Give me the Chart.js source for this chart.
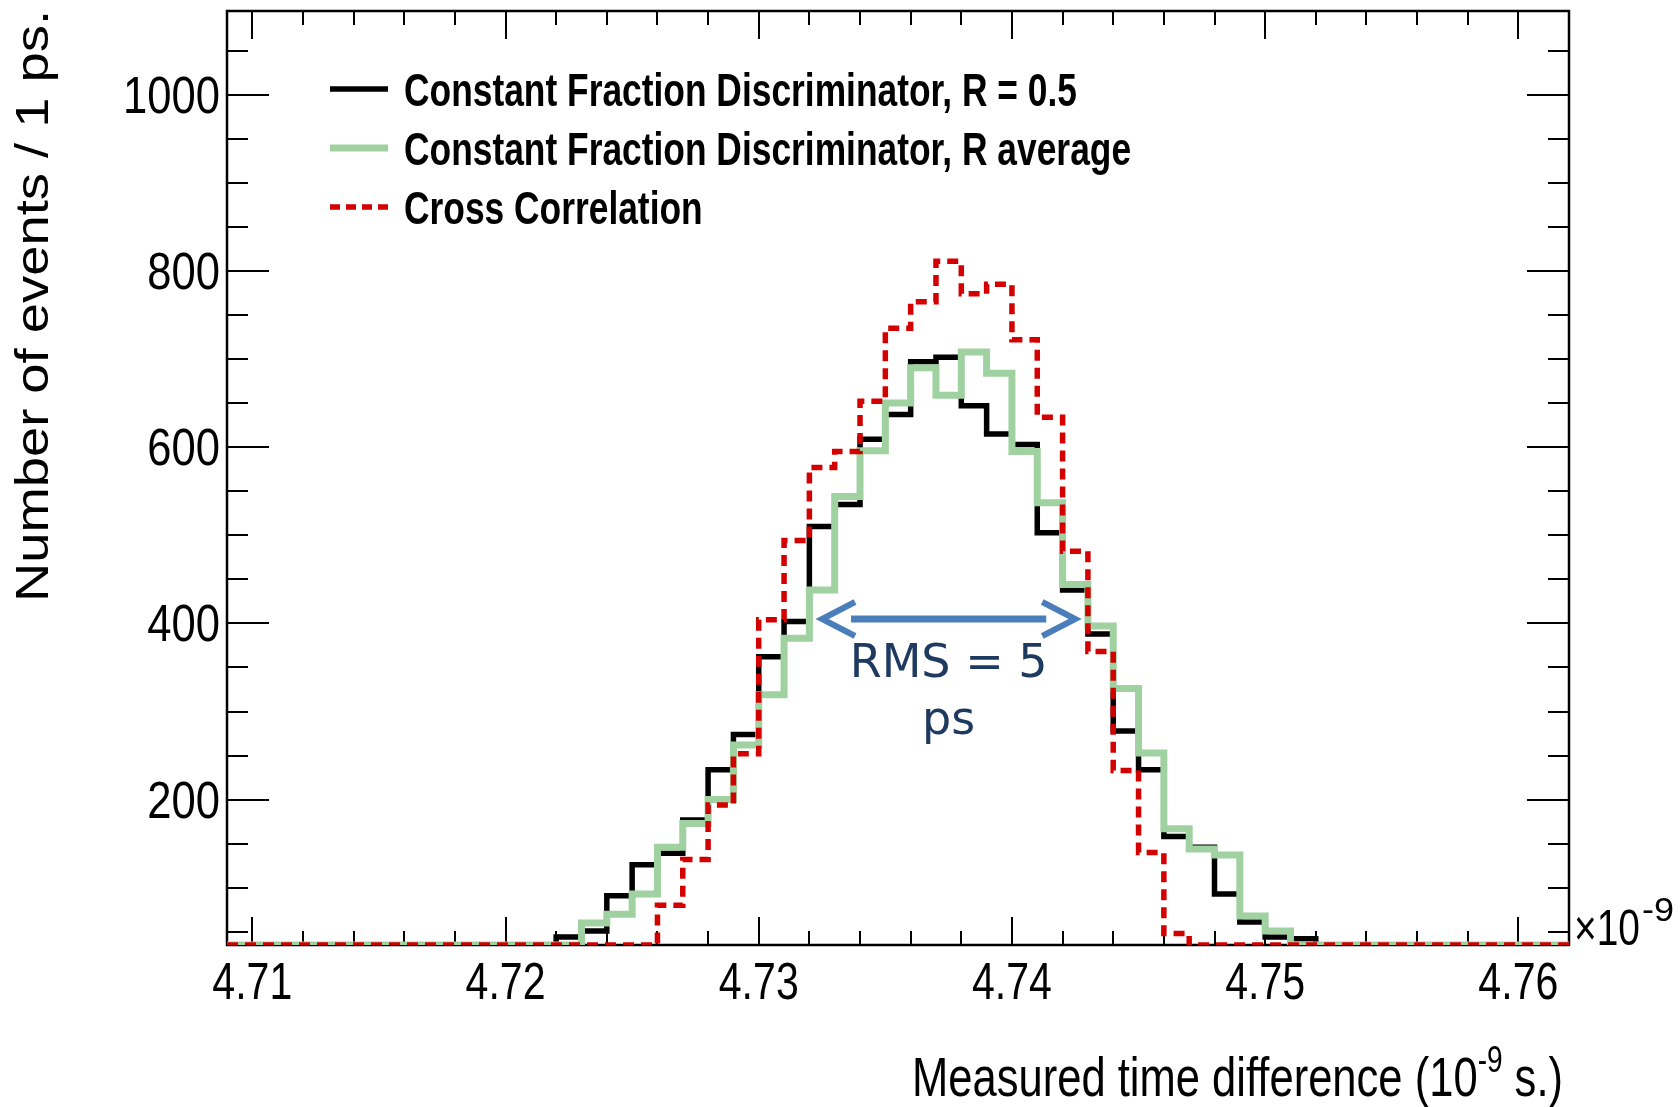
<!DOCTYPE html>
<html>
<head>
<meta charset="utf-8">
<title>Measured time difference</title>
<script src="https://cdn.jsdelivr.net/npm/chart.js@4.4.1/dist/chart.umd.min.js"></script>
<style>
  html, body { margin: 0; padding: 0; background: #fff; }
  canvas { display: block; }
</style>
</head>
<body>
<canvas id="chart" width="1680" height="1107"></canvas>
<script>
// left edge of every 1 ps bin, in units of 10^-9 s
const timeBins = [
  4.709, 4.710, 4.711, 4.712, 4.713, 4.714, 4.715, 4.716, 4.717, 4.718,
  4.719, 4.720, 4.721, 4.722, 4.723, 4.724, 4.725, 4.726, 4.727, 4.728,
  4.729, 4.730, 4.731, 4.732, 4.733, 4.734, 4.735, 4.736, 4.737, 4.738,
  4.739, 4.740, 4.741, 4.742, 4.743, 4.744, 4.745, 4.746, 4.747, 4.748,
  4.749, 4.750, 4.751, 4.752, 4.753, 4.754, 4.755, 4.756, 4.757, 4.758,
  4.759, 4.760, 4.761
];
const binWidth = 0.001;

// events per bin
const cfdHalf = [
  0, 0, 0, 0, 0, 0, 0, 0, 0, 0, 0, 0, 0,
  44, 51, 91, 126, 139, 177, 234, 274, 362, 402, 510, 535, 609, 637, 697, 702,
  647, 615, 603, 503, 438, 388, 278, 234, 158, 146, 93, 61, 44, 42,
  0, 0, 0, 0, 0, 0, 0, 0, 0, 0
];
const cfdAverage = [
  0, 0, 0, 0, 0, 0, 0, 0, 0, 0, 0, 0, 0, 0,
  60, 70, 93, 146, 173, 200, 262, 319, 383, 438, 544, 596, 650, 690,
  659, 708, 684, 595, 537, 444, 397, 326, 253, 167, 144, 137, 68, 51,
  0, 0, 0, 0, 0, 0, 0, 0, 0, 0, 0
];
const crossCorrelation = [
  0, 0, 0, 0, 0, 0, 0, 0, 0, 0, 0, 0, 0, 0, 0, 0, 0,
  80, 132, 194, 252, 404, 494, 577, 595, 652, 735, 765, 811, 774, 785, 722,
  634, 482, 368, 233, 140, 48,
  0, 0, 0, 0, 0, 0, 0, 0, 0, 0, 0, 0, 0, 0, 0
];

const seriesNames = [
  "Constant Fraction Discriminator, R = 0.5",
  "Constant Fraction Discriminator, R average",
  "Cross Correlation"
];
const xTickValues = [4.71, 4.72, 4.73, 4.74, 4.75, 4.76];
const yTickValues = [200, 400, 600, 800, 1000];
const rmsLabel = ["RMS = 5", "ps"];
const rmsSpan = [4.7325, 4.7425];
const rmsLevel = 405;

const xMin = 4.709, xMax = 4.762;
const yMin = 35, yMax = 1095;

const colBlack = "#000000";
const colGreen = "#a0d1a0";
const colRed = "#d40000";
const redDash = [11, 7];

// histogram as stepped line: one point per left edge plus the closing edge
function histPoints(values) {
  const pts = timeBins.map((x, i) => ({ x: x, y: Math.max(values[i], yMin) }));
  pts.push({ x: timeBins[timeBins.length - 1] + binWidth, y: pts[pts.length - 1].y });
  return pts;
}

// draw text squeezed horizontally by factor k
function squeezeText(ctx, text, x, y, k, font, align) {
  ctx.save();
  ctx.font = font;
  const width = ctx.measureText(text).width * k;
  let x0 = x;
  if (align === "center") x0 = x - width / 2;
  if (align === "right") x0 = x - width;
  ctx.translate(x0, y);
  ctx.scale(k, 1);
  ctx.textAlign = "left";
  ctx.fillText(text, 0, 0);
  ctx.restore();
  return width;
}

// draw text fitted to a given width
function fitText(ctx, text, x, y, width, font, align) {
  ctx.font = font;
  const k = width / ctx.measureText(text).width;
  squeezeText(ctx, text, x, y, k, font, align);
  return k;
}

const frameAndTicks = {
  id: "frameAndTicks",
  beforeDatasetsDraw(chart) {
    const { ctx, chartArea: a, scales: { x, y } } = chart;
    ctx.save();
    ctx.strokeStyle = "#000";
    ctx.lineWidth = 2;
    ctx.beginPath();
    for (let ps = 10; ps <= 60; ps += 2) {
      const px = Math.round(x.getPixelForValue(4.7 + ps / 1000));
      const len = ps % 10 === 0 ? 28 : 14;
      ctx.moveTo(px, a.bottom); ctx.lineTo(px, a.bottom - len);
      ctx.moveTo(px, a.top); ctx.lineTo(px, a.top + len);
    }
    for (let v = 50; v <= 1050; v += 50) {
      const py = Math.round(y.getPixelForValue(v));
      const len = v % 200 === 0 ? 42 : 21;
      ctx.moveTo(a.left, py); ctx.lineTo(a.left + len, py);
      ctx.moveTo(a.right, py); ctx.lineTo(a.right - len, py);
    }
    ctx.stroke();
    ctx.lineWidth = 2.5;
    ctx.strokeRect(a.left, a.top, a.right - a.left, a.bottom - a.top);

    // tick labels, condensed like the original
    ctx.fillStyle = "#000";
    const tickFont = "51px 'Liberation Sans', Arial";
    ctx.font = tickFont;
    const kx = 80 / ctx.measureText("4.71").width;
    x.ticks.forEach(t => {
      squeezeText(ctx, Number(t.value).toFixed(2), x.getPixelForValue(t.value), a.bottom + 54, kx, tickFont, "center");
    });
    ctx.font = tickFont;
    const ky = 97 / ctx.measureText("1000").width;
    y.ticks.forEach(t => {
      squeezeText(ctx, String(t.value), a.left - 7, y.getPixelForValue(t.value) + 18, ky, tickFont, "right");
    });
    ctx.restore();
  }
};

const decorations = {
  id: "decorations",
  afterDatasetsDraw(chart) {
    const { ctx, chartArea: a, scales: { x, y } } = chart;
    ctx.save();
    ctx.fillStyle = "#000";

    // legend
    const rows = [89, 148, 207];
    const styles = [
      { color: colBlack, width: 5.5, dash: [] },
      { color: colGreen, width: 7, dash: [] },
      { color: colRed, width: 5.5, dash: [10, 6] }
    ];
    const legendFont = "bold 47px 'Liberation Sans Narrow', 'Liberation Sans', Arial";
    ctx.font = legendFont;
    const k = 673 / ctx.measureText(seriesNames[0]).width;
    rows.forEach((ry, i) => {
      ctx.beginPath();
      ctx.strokeStyle = styles[i].color;
      ctx.lineWidth = styles[i].width;
      ctx.setLineDash(styles[i].dash);
      ctx.moveTo(330, ry);
      ctx.lineTo(388, ry);
      ctx.stroke();
      ctx.setLineDash([]);
      squeezeText(ctx, seriesNames[i], 404, ry + 17, k, legendFont);
    });

    // y title
    ctx.save();
    ctx.translate(48, 602);
    ctx.rotate(-Math.PI / 2);
    fitText(ctx, "Number of events / 1 ps.", 0, 0, 592, "46px 'Liberation Sans', Arial");
    ctx.restore();

    // x title with superscript
    const mainFont = "56px 'Liberation Sans', Arial";
    const supFont = "36px 'Liberation Sans', Arial";
    const parts = [
      { t: "Measured time difference (10", f: mainFont, dy: 0 },
      { t: "-9", f: supFont, dy: -24 },
      { t: " s.)", f: mainFont, dy: 0 }
    ];
    let total = 0;
    parts.forEach(p => { ctx.font = p.f; p.w = ctx.measureText(p.t).width; total += p.w; });
    const kt = 651 / total;
    let cx = 912;
    parts.forEach(p => {
      cx += squeezeText(ctx, p.t, cx, 1096 + p.dy, kt, p.f);
    });

    // x10^-9 exponent label
    fitText(ctx, "\u00d710", 1574, 945, 66, "50px 'Liberation Sans', Arial");
    fitText(ctx, "-9", 1642, 921, 32, "34px 'Liberation Sans', Arial");

    // RMS arrow
    const xl = x.getPixelForValue(rmsSpan[0]);
    const xr = x.getPixelForValue(rmsSpan[1]);
    const ay = y.getPixelForValue(rmsLevel);
    ctx.strokeStyle = "#4a7ebb";
    ctx.lineWidth = 7;
    ctx.beginPath();
    ctx.moveTo(xl + 29, ay);
    ctx.lineTo(xr - 29, ay);
    ctx.stroke();
    ctx.lineWidth = 6;
    ctx.lineJoin = "miter";
    ctx.beginPath();
    ctx.moveTo(xl + 33, ay - 17); ctx.lineTo(xl, ay); ctx.lineTo(xl + 33, ay + 17);
    ctx.moveTo(xr - 33, ay - 17); ctx.lineTo(xr, ay); ctx.lineTo(xr - 33, ay + 17);
    ctx.stroke();

    const xc = (xl + xr) / 2;
    ctx.fillStyle = "#1f3a60";
    ctx.font = "46px 'DejaVu Sans', sans-serif";
    ctx.textAlign = "center";
    ctx.fillText(rmsLabel[0], xc, ay + 58);
    ctx.fillText(rmsLabel[1], xc, ay + 115);
    ctx.restore();
  }
};

const datasetBase = {
  stepped: "before",
  pointRadius: 0,
  fill: false,
  borderCapStyle: "butt",
  borderJoinStyle: "miter"
};

new Chart(document.getElementById("chart"), {
  type: "line",
  data: {
    datasets: [
      { ...datasetBase, label: seriesNames[0], data: histPoints(cfdHalf), borderColor: colBlack, borderWidth: 5.5, order: 3 },
      { ...datasetBase, label: seriesNames[1], data: histPoints(cfdAverage), borderColor: colGreen, borderWidth: 7, order: 2 },
      { ...datasetBase, label: seriesNames[2], data: histPoints(crossCorrelation), borderColor: colRed, borderWidth: 5.5, borderDash: redDash, order: 1 }
    ]
  },
  options: {
    responsive: false,
    animation: false,
    devicePixelRatio: 1,
    layout: { padding: { top: 11, right: 111, left: 0, bottom: 0 } },
    plugins: { legend: { display: false }, tooltip: { enabled: false } },
    scales: {
      x: {
        type: "linear",
        min: xMin,
        max: xMax,
        afterBuildTicks: (s) => { s.ticks = xTickValues.map(v => ({ value: v })); },
        afterFit: (s) => { s.height = 162; s.paddingLeft = 0; s.paddingRight = 0; },
        grid: { display: false, drawTicks: false },
        border: { display: false },
        ticks: { display: false }
      },
      y: {
        type: "linear",
        min: yMin,
        max: yMax,
        afterBuildTicks: (s) => { s.ticks = yTickValues.map(v => ({ value: v })); },
        afterFit: (s) => { s.width = 227; s.paddingTop = 0; s.paddingBottom = 0; },
        grid: { display: false, drawTicks: false },
        border: { display: false },
        ticks: { display: false }
      }
    }
  },
  plugins: [frameAndTicks, decorations]
});
</script>
</body>
</html>
